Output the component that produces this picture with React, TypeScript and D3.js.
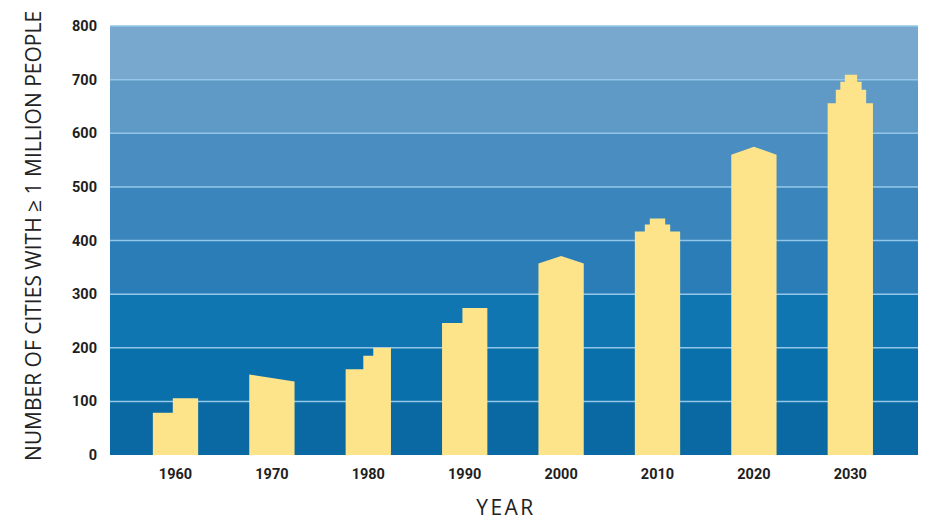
import React from "react";
import * as d3 from "d3";

const years = ["1960", "1970", "1980", "1990", "2000", "2010", "2020", "2030"];
// Peak number of cities per decade
const peakValues = [106, 150, 200, 274, 371, 441, 575, 709];
// Building roof profiles: [fraction across bar, value]
const roof1960 = [[0, 79], [0.44, 79], [0.44, 106], [1, 106]];
const roof1970 = [[0, 150], [1, 137]];
const roof1980 = [[0, 160], [0.39, 160], [0.39, 185], [0.61, 185], [0.61, 200], [1, 200]];
const roof1990 = [[0, 246], [0.45, 246], [0.45, 274], [1, 274]];
const roof2000 = [[0, 357], [0.5, 371], [1, 357]];
const roof2010 = [[0, 417], [0.22, 417], [0.22, 430], [0.33, 430], [0.33, 441], [0.67, 441], [0.67, 430], [0.78, 430], [0.78, 417], [1, 417]];
const roof2020 = [[0, 560], [0.5, 575], [1, 560]];
const roof2030 = [[0, 656], [0.18, 656], [0.18, 681], [0.28, 681], [0.28, 696], [0.38, 696], [0.38, 709], [0.65, 709], [0.65, 696], [0.75, 696], [0.75, 681], [0.85, 681], [0.85, 656], [1, 656]];
const roofs = [roof1960, roof1970, roof1980, roof1990, roof2000, roof2010, roof2020, roof2030];
const yTicks = [0, 100, 200, 300, 400, 500, 600, 700, 800];
const bandColors = ["#0a68a3", "#0a70ab", "#0f76b2", "#2a7db7", "#3a85bb", "#4a8dc0", "#5f9ac7", "#79a8cf"];

export default function App() {
  const W = 927, H = 520;
  const y = d3.scaleLinear().domain([0, 800]).range([455, 26]);
  const x = d3.scaleBand().domain(years).range([127.3, 898.5]).paddingInner(0.53).paddingOuter(0.265);
  const plotL = 110, plotR = 918;
  const bw = x.bandwidth();

  const barPath = (i: number) => {
    const x0 = x(years[i])!;
    const pts: [number, number][] = [[x0, y(0)]];
    roofs[i].forEach(([f, v]) => pts.push([x0 + f * bw, y(v)]));
    pts.push([x0 + bw, y(0)]);
    return d3.line()(pts)! + "Z";
  };

  return (
    <svg width={W} height={H} style={{ position: "absolute", left: 0, top: 0, background: "#fff" }}>
      {yTicks.slice(0, -1).map((t, i) => (
        <rect key={"b" + t} x={plotL} y={y(t + 100)} width={plotR - plotL} height={y(t) - y(t + 100)} fill={bandColors[i]} />
      ))}
      {yTicks.slice(1).map((t) => (
        <line key={"g" + t} x1={plotL} x2={plotR} y1={y(t)} y2={y(t)} stroke="#93c6e8" strokeWidth={1.5} />
      ))}
      {years.map((yr, i) => (
        <path key={yr} d={barPath(i)} fill="#fde48a" />
      ))}
      {yTicks.map((t) => (
        <text key={"yt" + t} x={97} y={y(t)} dy="0.35em" textAnchor="end" fontFamily="Roboto" fontWeight="bold" fontSize={14.5} fill="#1e1e1e">{t}</text>
      ))}
      {years.map((yr) => (
        <text key={"xt" + yr} x={x(yr)! + bw / 2} y={474} dy="0.35em" textAnchor="middle" fontFamily="Roboto" fontWeight="bold" fontSize={14.5} fill="#1e1e1e">{yr}</text>
      ))}
      <text x={506} y={515} textAnchor="middle" fontFamily="Open Sans" fontSize={21} letterSpacing={2.5} fill="#222">YEAR</text>
      <text transform="translate(41,236) rotate(-90)" textAnchor="middle" fontFamily="Open Sans" fontSize={21} fill="#222">NUMBER OF CITIES WITH ≥ 1 MILLION PEOPLE</text>
    </svg>
  );
}
